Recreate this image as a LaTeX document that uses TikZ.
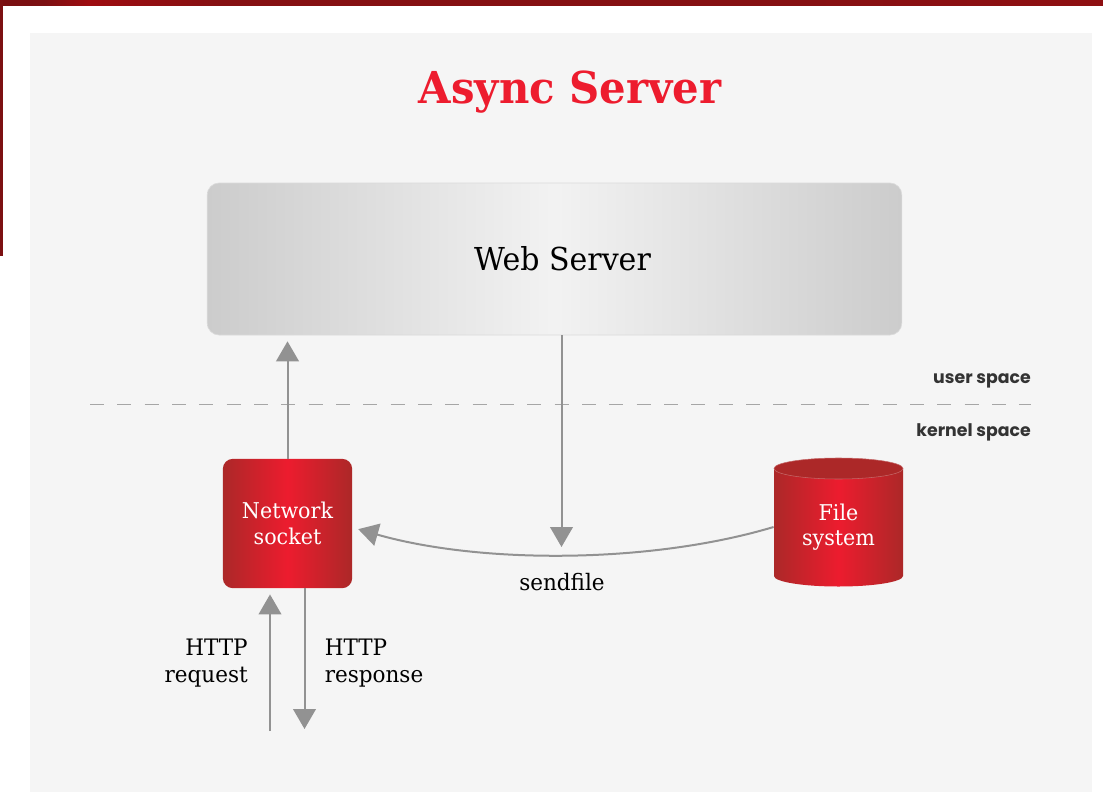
\documentclass[tikz,border=0pt]{standalone}
\usepackage{fontspec}
\setmainfont{DejaVu Serif}
\newfontfamily\slabfont[FakeStretch=0.95]{DejaVu Serif}
\newfontfamily\labelfont{Poppins}
\usetikzlibrary{arrows.meta}
\definecolor{arrowgray}{HTML}{929292}
\definecolor{redside}{HTML}{AC2828}
\definecolor{redmid}{HTML}{ED1C2E}
\definecolor{barleft}{HTML}{7C1012}
\definecolor{bardark}{HTML}{6C0408}
\definecolor{barmid}{HTML}{851012}
\definecolor{barright}{HTML}{9E0C10}
\definecolor{panelgray}{HTML}{F5F5F5}
\pgfdeclarehorizontalshading{topbar}{100bp}{color(0bp)=(barleft); color(14bp)=(bardark); color(27bp)=(barleft); color(29bp)=(barright); color(35bp)=(barmid); color(60bp)=(barmid); color(100bp)=(barright)}
\begin{document}
\begin{tikzpicture}[x=.75pt, y=-.75pt,
  >={Triangle[length=15pt,width=17pt]},
  link/.style={draw=arrowgray, line width=1.5pt},
  webbox/.style={rounded corners=9pt, draw=black!14, line width=.5pt, left color=black!20, right color=black!20, middle color=black!5, minimum width=521pt, minimum height=114pt, font=\slabfont\fontsize{23.7}{27}\selectfont},
  redbox/.style={rounded corners=7.5pt, left color=redside, right color=redside, middle color=redmid, minimum width=97pt, minimum height=97pt, text=white, align=center, font=\slabfont\fontsize{16.3}{19}\selectfont},
  filetext/.style={minimum width=97pt, minimum height=96pt, inner sep=0pt, text=white, align=center, font=\slabfont\fontsize{16.3}{19}\selectfont},
  blacktext/.style={align=center, inner sep=0pt, font=\slabfont\fontsize{17}{20}\selectfont},
  spacetext/.style={anchor=east, inner sep=0pt, text=black!80, font=\labelfont\bfseries\fontsize{13}{15}\selectfont}]
\useasboundingbox (0,0) rectangle (1103,792);
% page
\fill[white] (0,0) rectangle (1103,792);
\shade[shading=topbar] (0,0) rectangle (1103,6);
\fill[barleft] (0,0) rectangle (3,256);
\fill[panelgray] (30,33) rectangle (1092,792);
\node[text=redmid, inner sep=0pt, font=\slabfont\bfseries\fontsize{33}{38}\selectfont] (title) at (570,92) {Async Server};
% boxes
\node[webbox] (web) at (554.5,259) {\hspace*{12pt}Web Server};
\node[redbox] (sock) at (287.5,523.5) {\rule{0pt}{3pt}Network\\socket};
\shade[left color=redside, right color=redside, middle color=redmid] (774,468.5) -- (774,576) .. controls (774,581.8) and (802.9,586.5) .. (838.5,586.5) .. controls (874.1,586.5) and (903,581.8) .. (903,576) -- (903,468.5) -- cycle;
\draw[fill=redside, draw=redside!70!white, line width=.4pt] (838.5,468.5) ellipse [x radius=64.5, y radius=10.5];
\node[filetext] (fsys) at (838.5,527) {File\\system};
% user and kernel space
\coordinate (dashleft) at (90,404);
\coordinate (dashright) at (1031,404);
\draw[draw=black!35, line width=.75pt, dash pattern=on 10.5pt off 10pt] (dashleft) -- (dashright);
\node[spacetext] (user) at (1031,381) {user space};
\node[spacetext] (kernel) at (1031,432) {kernel space};
% arrows
\coordinate (sendend) at (561.5,547);
\coordinate (reqstart) at (270,731);
\coordinate (respend) at (304.5,729);
\draw[->, link, shorten >=4.5pt] (sock.north) -- (sock.north |- web.south);
\draw[->, link] (web.south -| sendend) -- (sendend);
\draw[->, link, shorten >=4.5pt] (fsys.west) .. controls (650,564) and (480,564) .. ([yshift=-3pt]sock.east);
\draw[->, link, shorten >=4.5pt] (reqstart) -- (reqstart |- sock.south);
\draw[->, link] (respend |- sock.south) -- (respend);
% arrow labels
\node[blacktext] (sendlabel) at (562,582) {sendfile};
\node[blacktext, anchor=east, align=right] (reqlabel) at (248,663) {HTTP\\request};
\node[blacktext, anchor=west, align=left] (resplabel) at (324.5,663) {HTTP\\response};
\end{tikzpicture}
\end{document}
